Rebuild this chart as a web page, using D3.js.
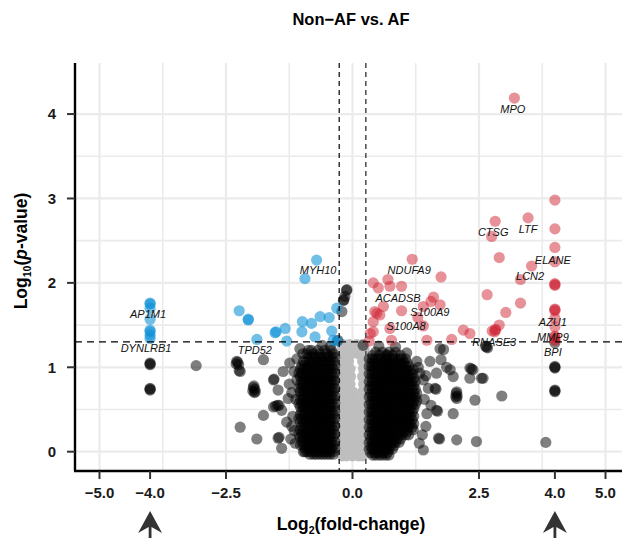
<!DOCTYPE html>
<html>
<head>
<meta charset="utf-8">
<script src="https://cdn.jsdelivr.net/npm/d3@7"></script>
<style>
    body { margin: 0; background: #fff; }
    text { font-family: "Liberation Sans", Arial, Helvetica, sans-serif; }
</style>
</head>
<body>
<div class="visContainer"></div>
<script>
// Data: [log2 fold-change, -log10 p-value].
const upGenes = [
    [3.2, 4.19], [3.47, 2.77], [2.82, 2.73], [2.75, 2.55], [2.9, 2.30],
    [4, 2.98], [4, 2.64], [4, 2.42], [4, 2.25], [3.54, 2.2], [3.32, 2.04],
    [4, 1.99], [4, 1.98], [4, 1.97], [2.66, 1.86], [3.32, 1.76], [3.03, 1.65],
    [4, 1.69], [4, 1.68], [4, 1.67], [2.9, 1.5], [2.82, 1.45], [2.83, 1.44],
    [2.81, 1.42], [4, 1.58], [4, 1.48], [4, 1.36], [4, 1.37], [4, 1.33], [4, 1.32],
    [1.18, 2.28], [1.75, 2.07], [0.41, 2.0], [0.51, 1.94], [0.70, 2.04],
    [0.74, 1.96], [0.97, 1.96], [1.6, 1.83], [1.55, 1.78], [1.73, 1.74],
    [1.4, 1.72], [0.61, 1.72], [0.44, 1.66], [0.54, 1.62], [0.97, 1.67],
    [1.29, 1.59], [0.41, 1.54], [0.41, 1.42], [0.74, 1.46], [1.4, 1.49],
    [2.19, 1.44], [2.32, 1.40], [2.76, 1.43], [1.96, 1.33], [1.47, 1.32],
    [0.77, 1.32], [0.35, 1.40], [0.48, 1.64], [0.33, 1.31]
];

const downGenes = [
    [-4, 1.76], [-4, 1.75], [-4, 1.70], [-4, 1.57], [-4, 1.44], [-4, 1.42],
    [-4, 1.38], [-4, 1.34], [-2.24, 1.67], [-2.06, 1.56], [-2.06, 1.57],
    [-1.53, 1.41], [-1.89, 1.33], [-0.71, 2.27], [-0.94, 2.05], [-0.31, 1.70],
    [-0.46, 1.59], [-0.64, 1.60], [-0.81, 1.52], [-0.99, 1.54], [-1.51, 1.42],
    [-1.33, 1.46], [-1.0, 1.42], [-0.74, 1.36], [-0.41, 1.43], [-1.30, 1.31],
    [-0.38, 1.32], [-0.30, 1.31]
];

// Scattered genes failing one of the two cut-offs (drawn black).
const otherGenes = [
    [-4, 1.04], [-4, 1.05], [-4, 1.03], [-4, 0.74], [-4, 0.75], [-4, 0.73],
    [-3.09, 1.02], [-2.29, 1.07], [-2.27, 1.06], [-2.3, 1.04], [-2.25, 1.03],
    [-2.22, 0.95], [-2.24, 0.96], [-1.76, 1.09], [-1.95, 0.78], [-1.96, 0.76],
    [-1.93, 0.74], [-1.97, 0.72], [-1.92, 0.71], [-1.94, 0.70], [-1.56, 0.85],
    [-1.55, 0.86], [-1.37, 0.95], [-1.24, 1.05], [-1.04, 1.22], [-1.47, 0.73],
    [-1.27, 0.63], [-1.56, 0.53], [-1.52, 0.54], [-1.48, 0.55], [-1.45, 0.55],
    [-1.4, 0.49], [-1.76, 0.43], [-2.22, 0.29], [-1.89, 0.15], [-1.47, 0.16],
    [-1.45, 0.17], [-1.4, 0.04], [-0.94, 0.0], [-0.87, 1.2], [-1.1, 0.85],
    [-0.44, 1.24], [-0.29, 1.32], [-1.18, 0.42], [-1.15, 0.25], [-1.2, 0.7],
    [-1.12, 0.62], [-1.15, 0.95], [-1.2, 0.3], [-1.13, 0.1], [-1.25, 0.8],
    [-1.3, 0.35], [-1.22, 0.15], [-1.1, 1.1], [-0.98, 1.16], [-0.6, 1.26],
    [-0.11, 1.92], [-0.12, 1.91], [-0.15, 1.84], [-0.18, 1.79], [-0.17, 1.8],
    [-0.21, 1.66],
    [1.73, 1.22], [1.53, 1.07], [1.66, 0.93], [1.93, 0.97], [1.99, 0.89],
    [2.32, 0.99], [2.35, 0.98], [2.38, 0.97], [2.32, 0.87], [2.55, 0.87],
    [2.58, 0.87], [1.63, 0.75], [1.65, 0.74], [1.40, 0.85], [2.06, 0.71],
    [2.05, 0.69], [2.07, 0.66], [2.04, 0.65], [2.06, 0.63], [2.42, 0.61],
    [1.66, 0.49], [1.68, 0.48], [1.47, 0.45], [1.99, 0.45], [1.70, 0.16],
    [1.72, 0.15], [2.06, 0.14], [2.45, 0.12], [1.4, 0.02], [1.2, 0.26],
    [1.33, 0.93], [2.65, 1.24], [2.67, 1.23], [2.63, 1.25], [1.8, 1.21],
    [1.75, 1.09], [1.86, 1.0], [2.95, 0.66], [3.82, 0.11], [4, 0.99], [4, 1.0],
    [4, 1.01], [4, 0.72], [4, 0.73], [4, 0.71], [4, 1.29], [0.21, 1.26],
    [1.07, 1.17], [1.27, 1.07], [0.68, 1.15], [1.2, 0.97],
    [1.42, 0.62], [1.45, 0.3], [1.5, 0.75], [1.38, 0.2], [1.55, 0.55],
    [1.3, 1.0], [1.45, 0.9], [1.32, 0.1], [0.52, 1.25], [0.85, 1.24]
];

// Dense cores, one row per -log10 p level: [y, [x values]].
const leftCoreRows = [
    [1.20, [-0.42, -0.55, -0.68, -0.81]],
    [1.16, [-0.38, -0.51, -0.64, -0.77, -0.9]],
    [1.12, [-0.35, -0.42, -0.48, -0.55, -0.61, -0.68, -0.74, -0.81, -0.87]],
    [1.07, [-0.38, -0.45, -0.51, -0.58, -0.64, -0.71, -0.77, -0.84, -0.9, -0.97]],
    [1.02, [-0.35, -0.42, -0.48, -0.55, -0.61, -0.68, -0.74, -0.81, -0.87, -0.94, -1.0]],
    [0.98, [-0.38, -0.45, -0.51, -0.58, -0.64, -0.71, -0.77, -0.84, -0.9, -0.97, -1.03]],
    [0.93, [-0.35, -0.42, -0.48, -0.55, -0.61, -0.68, -0.74, -0.81, -0.87, -0.94, -1.0, -1.06]],
    [0.89, [-0.38, -0.45, -0.51, -0.58, -0.64, -0.71, -0.77, -0.84, -0.9, -0.97, -1.03]],
    [0.84, [-0.35, -0.42, -0.48, -0.55, -0.61, -0.68, -0.74, -0.81, -0.87, -0.94, -1.0]],
    [0.80, [-0.38, -0.45, -0.51, -0.58, -0.64, -0.71, -0.77, -0.84, -0.9, -0.97, -1.03]],
    [0.75, [-0.35, -0.42, -0.48, -0.55, -0.61, -0.68, -0.74, -0.81, -0.87, -0.94, -1.0, -1.06]],
    [0.71, [-0.38, -0.45, -0.51, -0.58, -0.64, -0.71, -0.77, -0.84, -0.9, -0.97, -1.03]],
    [0.66, [-0.35, -0.42, -0.48, -0.55, -0.61, -0.68, -0.74, -0.81, -0.87, -0.94, -1.0]],
    [0.62, [-0.38, -0.45, -0.51, -0.58, -0.64, -0.71, -0.77, -0.84, -0.9, -0.97, -1.03]],
    [0.57, [-0.35, -0.42, -0.48, -0.55, -0.61, -0.68, -0.74, -0.81, -0.87, -0.94, -1.0, -1.06]],
    [0.53, [-0.38, -0.45, -0.51, -0.58, -0.64, -0.71, -0.77, -0.84, -0.9, -0.97, -1.03]],
    [0.48, [-0.35, -0.42, -0.48, -0.55, -0.61, -0.68, -0.74, -0.81, -0.87, -0.94, -1.0]],
    [0.44, [-0.38, -0.45, -0.51, -0.58, -0.64, -0.71, -0.77, -0.84, -0.9, -0.97, -1.03]],
    [0.39, [-0.35, -0.42, -0.48, -0.55, -0.61, -0.68, -0.74, -0.81, -0.87, -0.94, -1.0, -1.06]],
    [0.35, [-0.38, -0.45, -0.51, -0.58, -0.64, -0.71, -0.77, -0.84, -0.9, -0.97, -1.03]],
    [0.30, [-0.35, -0.42, -0.48, -0.55, -0.61, -0.68, -0.74, -0.81, -0.87, -0.94, -1.0]],
    [0.26, [-0.38, -0.45, -0.51, -0.58, -0.64, -0.71, -0.77, -0.84, -0.9, -0.97, -1.03]],
    [0.21, [-0.35, -0.42, -0.48, -0.55, -0.61, -0.68, -0.74, -0.81, -0.87, -0.94, -1.0, -1.06]],
    [0.17, [-0.38, -0.45, -0.51, -0.58, -0.64, -0.71, -0.77, -0.84, -0.9, -0.97, -1.03]],
    [0.12, [-0.35, -0.42, -0.48, -0.55, -0.61, -0.68, -0.74, -0.81, -0.87, -0.94, -1.0]],
    [0.08, [-0.38, -0.45, -0.51, -0.58, -0.64, -0.71, -0.77, -0.84, -0.9, -0.97, -1.03]],
    [0.04, [-0.35, -0.42, -0.48, -0.55, -0.61, -0.68, -0.74, -0.81, -0.87, -0.94]],
    [0.00, [-0.38, -0.45, -0.51, -0.58, -0.64, -0.71, -0.77, -0.84, -0.9, -0.97]],
    [-0.03, [-0.38, -0.45, -0.51, -0.58, -0.64, -0.71, -0.77, -0.84]]
];

const rightCoreRows = [
    [1.18, [0.46, 0.59, 0.72, 0.85]],
    [1.14, [0.4, 0.53, 0.66, 0.79, 0.95]],
    [1.10, [0.33, 0.4, 0.46, 0.53, 0.59, 0.66, 0.72, 0.79, 0.85, 0.92, 0.98, 1.05]],
    [1.05, [0.36, 0.43, 0.49, 0.56, 0.62, 0.69, 0.75, 0.82, 0.88, 0.95, 1.01, 1.08]],
    [1.01, [0.33, 0.4, 0.46, 0.53, 0.59, 0.66, 0.72, 0.79, 0.85, 0.92, 0.98, 1.05, 1.11]],
    [0.96, [0.36, 0.43, 0.49, 0.56, 0.62, 0.69, 0.75, 0.82, 0.88, 0.95, 1.01, 1.08, 1.14]],
    [0.92, [0.33, 0.4, 0.46, 0.53, 0.59, 0.66, 0.72, 0.79, 0.85, 0.92, 0.98, 1.05, 1.11, 1.18]],
    [0.87, [0.36, 0.43, 0.49, 0.56, 0.62, 0.69, 0.75, 0.82, 0.88, 0.95, 1.01, 1.08, 1.14, 1.21]],
    [0.83, [0.33, 0.4, 0.46, 0.53, 0.59, 0.66, 0.72, 0.79, 0.85, 0.92, 0.98, 1.05, 1.11, 1.18, 1.24]],
    [0.78, [0.36, 0.43, 0.49, 0.56, 0.62, 0.69, 0.75, 0.82, 0.88, 0.95, 1.01, 1.08, 1.14, 1.21]],
    [0.74, [0.33, 0.4, 0.46, 0.53, 0.59, 0.66, 0.72, 0.79, 0.85, 0.92, 0.98, 1.05, 1.11, 1.18, 1.24]],
    [0.69, [0.36, 0.43, 0.49, 0.56, 0.62, 0.69, 0.75, 0.82, 0.88, 0.95, 1.01, 1.08, 1.14, 1.21, 1.27]],
    [0.65, [0.33, 0.4, 0.46, 0.53, 0.59, 0.66, 0.72, 0.79, 0.85, 0.92, 0.98, 1.05, 1.11, 1.18, 1.24]],
    [0.60, [0.36, 0.43, 0.49, 0.56, 0.62, 0.69, 0.75, 0.82, 0.88, 0.95, 1.01, 1.08, 1.14, 1.21, 1.27]],
    [0.56, [0.33, 0.4, 0.46, 0.53, 0.59, 0.66, 0.72, 0.79, 0.85, 0.92, 0.98, 1.05, 1.11, 1.18, 1.24]],
    [0.51, [0.36, 0.43, 0.49, 0.56, 0.62, 0.69, 0.75, 0.82, 0.88, 0.95, 1.01, 1.08, 1.14, 1.21]],
    [0.47, [0.33, 0.4, 0.46, 0.53, 0.59, 0.66, 0.72, 0.79, 0.85, 0.92, 0.98, 1.05, 1.11, 1.18]],
    [0.42, [0.36, 0.43, 0.49, 0.56, 0.62, 0.69, 0.75, 0.82, 0.88, 0.95, 1.01, 1.08, 1.14, 1.21]],
    [0.38, [0.33, 0.4, 0.46, 0.53, 0.59, 0.66, 0.72, 0.79, 0.85, 0.92, 0.98, 1.05, 1.11, 1.18]],
    [0.33, [0.36, 0.43, 0.49, 0.56, 0.62, 0.69, 0.75, 0.82, 0.88, 0.95, 1.01, 1.08, 1.14, 1.21]],
    [0.29, [0.33, 0.4, 0.46, 0.53, 0.59, 0.66, 0.72, 0.79, 0.85, 0.92, 0.98, 1.05, 1.11, 1.18]],
    [0.24, [0.36, 0.43, 0.49, 0.56, 0.62, 0.69, 0.75, 0.82, 0.88, 0.95, 1.01, 1.08]],
    [0.20, [0.33, 0.4, 0.46, 0.53, 0.59, 0.66, 0.72, 0.79, 0.85, 0.92, 0.98, 1.05, 1.11]],
    [0.15, [0.36, 0.43, 0.49, 0.56, 0.62, 0.69, 0.75, 0.82, 0.88, 0.95]],
    [0.11, [0.33, 0.4, 0.46, 0.53, 0.59, 0.66, 0.72, 0.79, 0.85, 0.92]],
    [0.07, [0.36, 0.43, 0.49, 0.56, 0.62, 0.69, 0.75, 0.82]],
    [0.03, [0.33, 0.4, 0.46, 0.53, 0.59, 0.66, 0.72, 0.79]],
    [-0.01, [0.36, 0.43, 0.49, 0.56, 0.62, 0.69]],
    [-0.04, [0.4, 0.46, 0.53, 0.59, 0.66, 0.72]]
];

// Genes under the fold-change cut-off (light grey).
const lowFcRows = [
    [1.27, [-0.18, -0.06, 0.08, 0.2]],
    [1.21, [-0.21, -0.12, 0.0, 0.14, 0.23]],
    [1.16, [-0.22, -0.15, -0.03, 0.12, 0.22]],
    [1.07, [-0.22, -0.14, -0.08, 0.2]],
    [0.98, [-0.23, -0.15, -0.05, 0.22]],
    [0.89, [-0.22, -0.12, -0.04, 0.2]],
    [0.80, [-0.23, -0.16, -0.05, 0.22]],
    [0.71, [-0.22, -0.12, 0.0, 0.2]],
    [0.62, [-0.23, -0.15, -0.05, 0.05, 0.22]],
    [0.53, [-0.2, -0.1, 0.0, 0.1, 0.2]],
    [0.44, [-0.22, -0.15, -0.05, 0.05, 0.15, 0.22]],
    [0.35, [-0.2, -0.1, 0.0, 0.1, 0.2]],
    [0.26, [-0.22, -0.15, -0.05, 0.05, 0.15, 0.22]],
    [0.17, [-0.2, -0.1, 0.0, 0.1, 0.2]],
    [0.08, [-0.22, -0.15, -0.05, 0.05, 0.15, 0.22]],
    [0.00, [-0.18, -0.08, 0.02, 0.12, 0.2]],
    [-0.05, [-0.2, -0.12, 0.0, 0.12, 0.2]]
];

// Labelled genes: name and text position (data units).
const labelNames = ['MPO', 'CTSG', 'LTF', 'ELANE', 'LCN2', 'AZU1', 'MMP9', 'BPI', 'RNASE3',
                    'NDUFA9', 'ACADSB', 'S100A9', 'S100A8', 'MYH10', 'TPD52', 'AP1M1', 'DYNLRB1'];
const labelX = [3.17, 2.78, 3.47, 3.96, 3.51, 3.96, 3.96, 3.96, 2.80,
                1.12, 0.90, 1.53, 1.06, -0.68, -1.93, -4.04, -4.08];
const labelY = [4.01, 2.556, 2.59, 2.22, 2.03, 1.49, 1.31, 1.135, 1.25,
                2.105, 1.77, 1.61, 1.44, 2.105, 1.16, 1.58, 1.18];

const xTicks = [-5, -4, -2.5, 0, 2.5, 4, 5];
const yTicks = [0, 1, 2, 3, 4];
const xGrid = [-5, -3.75, -2.5, -1.25, 0, 1.25, 2.5, 3.75, 5];
const yGrid = [0, 0.5, 1, 1.5, 2, 2.5, 3, 3.5, 4];
const fcCut = [-0.263, 0.263];
const pCut = 1.301;
const arrowMarks = [-4, 4];

// Flatten row tables into [x, y] pairs.
const fromRows = (rows) => rows.flatMap((r) => r[1].map((x) => [x, r[0]]));
const lowFcGenes = fromRows(lowFcRows);
const coreGenes = fromRows(leftCoreRows).concat(fromRows(rightCoreRows));

// SVG constants.
const width = 622;
const height = 538;
const panel = {left: 75, right: 622, top: 63, bottom: 470};

const svg = d3.select('.visContainer')
              .append('svg')
              .attr('width', width)
              .attr('height', height);

const xScale = d3.scaleLinear().domain([-5.484, 5.326]).range([panel.left, panel.right]);
const yScale = d3.scaleLinear().domain([-0.217, 4.605]).range([panel.bottom, panel.top]);

// Grid.
svg.append('g')
   .selectAll('line')
   .data(xGrid)
   .enter()
   .append('line')
   .attr('x1', (d) => xScale(d))
   .attr('x2', (d) => xScale(d))
   .attr('y1', panel.top)
   .attr('y2', panel.bottom)
   .attr('stroke', '#ebebeb')
   .attr('stroke-width', (d) => (d % 2.5 === 0 ? 2.2 : 1.6));

svg.append('g')
   .selectAll('line')
   .data(yGrid)
   .enter()
   .append('line')
   .attr('x1', panel.left)
   .attr('x2', panel.right)
   .attr('y1', (d) => yScale(d))
   .attr('y2', (d) => yScale(d))
   .attr('stroke', '#ebebeb')
   .attr('stroke-width', (d) => (d % 1 === 0 ? 2.2 : 1.6));

// Points.
function drawPoints(data, fill, opacity) {
    svg.append('g')
       .selectAll('circle')
       .data(data)
       .enter()
       .append('circle')
       .attr('cx', (d) => xScale(d[0]))
       .attr('cy', (d) => yScale(d[1]))
       .attr('r', 5.6)
       .attr('fill', fill)
       .attr('fill-opacity', opacity);
}
drawPoints(lowFcGenes, '#bebebe', 1);
drawPoints(coreGenes, '#000000', 0.5);
drawPoints(otherGenes, '#000000', 0.5);
drawPoints(downGenes, '#0a8fd6', 0.58);
drawPoints(upGenes, '#d02434', 0.5);

// Cut-off lines.
svg.append('line')
   .attr('x1', panel.left).attr('x2', panel.right)
   .attr('y1', yScale(pCut)).attr('y2', yScale(pCut))
   .attr('stroke', '#000').attr('stroke-width', 1.2)
   .attr('stroke-dasharray', '7,5');

svg.selectAll('.fc-line')
   .data(fcCut)
   .enter()
   .append('line')
   .attr('class', 'fc-line')
   .attr('x1', (d) => xScale(d)).attr('x2', (d) => xScale(d))
   .attr('y1', panel.top).attr('y2', panel.bottom)
   .attr('stroke', (d, i) => (i === 0 ? '#000' : '#555'))
   .attr('stroke-width', (d, i) => (i === 0 ? 1.2 : 1.6))
   .attr('stroke-dasharray', '5,4');

// Gene labels.
svg.append('g')
   .selectAll('text')
   .data(labelNames)
   .enter()
   .append('text')
   .attr('x', (d, i) => xScale(labelX[i]))
   .attr('y', (d, i) => yScale(labelY[i]))
   .attr('text-anchor', 'middle')
   .attr('font-size', 11)
   .attr('font-style', 'italic')
   .attr('fill', '#111')
   .text((d) => d);

// Axes.
svg.append('line')
   .attr('x1', panel.left).attr('x2', panel.left)
   .attr('y1', panel.top).attr('y2', panel.bottom + 1)
   .attr('stroke', '#000').attr('stroke-width', 2.4);
svg.append('line')
   .attr('x1', panel.left - 1).attr('x2', panel.right)
   .attr('y1', panel.bottom + 1).attr('y2', panel.bottom + 1)
   .attr('stroke', '#000').attr('stroke-width', 2.4);

const yAxis = svg.append('g');
yAxis.selectAll('line')
     .data(yTicks)
     .enter()
     .append('line')
     .attr('x1', panel.left - 8).attr('x2', panel.left)
     .attr('y1', (d) => yScale(d)).attr('y2', (d) => yScale(d))
     .attr('stroke', '#333').attr('stroke-width', 2);
yAxis.selectAll('text')
     .data(yTicks)
     .enter()
     .append('text')
     .attr('x', panel.left - 19)
     .attr('y', (d) => yScale(d))
     .attr('dy', '0.36em')
     .attr('text-anchor', 'end')
     .attr('font-size', 15)
     .attr('font-weight', 'bold')
     .attr('fill', '#1a1a1a')
     .text((d) => d);

const xAxis = svg.append('g');
xAxis.selectAll('line')
     .data(xTicks)
     .enter()
     .append('line')
     .attr('x1', (d) => xScale(d)).attr('x2', (d) => xScale(d))
     .attr('y1', panel.bottom + 1).attr('y2', panel.bottom + 9)
     .attr('stroke', '#333').attr('stroke-width', 2);
xAxis.selectAll('text')
     .data(xTicks)
     .enter()
     .append('text')
     .attr('x', (d) => xScale(d))
     .attr('y', panel.bottom + 28)
     .attr('text-anchor', 'middle')
     .attr('font-size', 15)
     .attr('font-weight', 'bold')
     .attr('fill', '#1a1a1a')
     .text((d) => d3.format('.1f')(d));

// Arrows under the +/-4 ticks.
svg.append('g')
   .selectAll('path')
   .data(arrowMarks)
   .enter()
   .append('path')
   .attr('transform', (d) => 'translate(' + xScale(d) + ',' + 511 + ')')
   .attr('d', 'M0,0 L12,22 L1.4,16 L1.4,27 L-1.4,27 L-1.4,16 L-12,22 Z')
   .attr('fill', '#333');

// Titles.
svg.append('text')
   .attr('x', 351)
   .attr('y', 25)
   .attr('text-anchor', 'middle')
   .attr('font-size', 16.5)
   .attr('font-weight', 'bold')
   .text('Non\u2212AF vs. AF');

const xTitle = svg.append('text')
   .attr('x', 351)
   .attr('y', 530)
   .attr('text-anchor', 'middle')
   .attr('font-size', 17.5)
   .attr('font-weight', 'bold');
xTitle.append('tspan').text('Log');
xTitle.append('tspan').attr('font-size', 10.5).attr('dy', 4).text('2');
xTitle.append('tspan').attr('dy', -4).text('(fold-change)');

const yTitle = svg.append('text')
   .attr('transform', 'translate(27,251) rotate(-90)')
   .attr('text-anchor', 'middle')
   .attr('font-size', 17.5)
   .attr('font-weight', 'bold');
yTitle.append('tspan').text('Log');
yTitle.append('tspan').attr('font-size', 10.5).attr('dy', 4).text('10');
yTitle.append('tspan').attr('dy', -4).text('(');
yTitle.append('tspan').attr('font-style', 'italic').text('p');
yTitle.append('tspan').text('-value)');
</script>
</body>
</html>
